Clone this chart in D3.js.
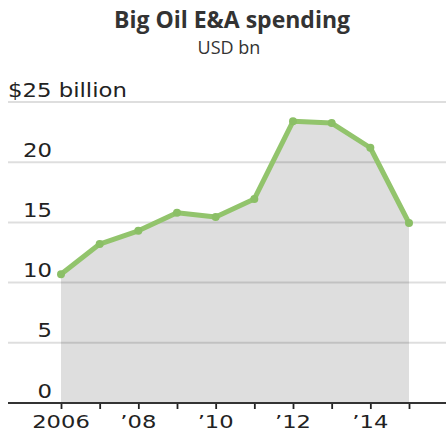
<!DOCTYPE html>
<html>
<head>
<meta charset="utf-8">
<script src="https://cdn.jsdelivr.net/npm/d3@7"></script>
<style>
  html, body { margin: 0; padding: 0; background: #fff; }
  svg { display: block; }
</style>
</head>
<body>
<svg id="chart" width="446" height="432"></svg>
<script>
// Big Oil exploration & production spending, USD bn
const years = [2006, 2007, 2008, 2009, 2010, 2011, 2012, 2013, 2014, 2015];
const spending = [10.7, 13.2, 14.3, 15.8, 15.45, 16.95, 23.4, 23.25, 21.2, 14.95];
const yTicks = [0, 5, 10, 15, 20, 25];
const xLabelYears = [2006, 2008, 2010, 2012, 2014];

const svg = d3.select("#chart");
const W = 446;
const titleFont = "'Open Sans', 'DejaVu Sans', sans-serif";
const axisFont = "'DejaVu Sans', sans-serif";
const widen = 1.2; // horizontal stretch for the wide axis lettering

const x = d3.scaleLinear().domain([2006, 2015]).range([61, 409]);
const y = d3.scaleLinear().domain([0, 25]).range([403, 102]);

// title
svg.append("text").attr("x", 232).attr("y", 28)
  .attr("text-anchor", "middle").attr("font-family", titleFont)
  .attr("font-weight", "bold").attr("font-size", 23).attr("fill", "#333")
  .text("Big Oil E&A spending");
svg.append("text").attr("x", 229).attr("y", 54)
  .attr("text-anchor", "middle").attr("font-family", titleFont)
  .attr("font-size", 18).attr("fill", "#333")
  .text("USD bn");

// shaded area under the line
const area = d3.area().x((d, i) => x(years[i])).y0(y(0)).y1(d => y(d));
svg.append("path").datum(spending).attr("d", area).attr("fill", "#dedede");

// horizontal gridlines: translucent so they read darker over the shading
const grid = svg.append("g");
grid.selectAll("line").data(yTicks.filter(t => t > 0)).join("line")
  .attr("x1", 8).attr("x2", W)
  .attr("y1", d => y(d)).attr("y2", d => y(d))
  .attr("stroke", "rgba(0,0,0,0.13)").attr("stroke-width", 2);

// y tick labels
const yl = svg.append("g").attr("font-family", axisFont).attr("font-size", 19).attr("fill", "#222");
yl.selectAll("text").data(yTicks).join("text")
  .attr("transform", d => `translate(${d === 25 ? 8 : 52},${y(d) - 5.5}) scale(${widen},1)`)
  .attr("text-anchor", d => d === 25 ? "start" : "end")
  .text(d => d === 25 ? "$25 billion" : d);

// x axis
const xAxis = d3.axisBottom(x).tickValues(years).tickSize(6).tickFormat("");
const gx = svg.append("g").attr("transform", `translate(0,${y(0)})`).call(xAxis);
gx.select(".domain").remove();
gx.selectAll(".tick line").attr("stroke", "#222").attr("stroke-width", 1.8);
svg.append("line").attr("x1", 8).attr("x2", W).attr("y1", y(0)).attr("y2", y(0))
  .attr("stroke", "#333").attr("stroke-width", 2);

svg.append("g").attr("font-family", axisFont).attr("font-size", 18.5).attr("fill", "#222")
  .selectAll("text").data(xLabelYears).join("text")
  .attr("transform", d => `translate(${x(d)},427.5) scale(${widen * 1.02},1)`)
  .attr("text-anchor", "middle")
  .text(d => d === 2006 ? "2006" : "\u2019" + String(d).slice(2));

// line and markers
const line = d3.line().x((d, i) => x(years[i])).y(d => y(d));
svg.append("path").datum(spending).attr("d", line)
  .attr("fill", "none").attr("stroke", "#92c46c").attr("stroke-width", 5)
  .attr("stroke-linejoin", "round");
svg.append("g").selectAll("circle").data(spending).join("circle")
  .attr("cx", (d, i) => x(years[i])).attr("cy", d => y(d)).attr("r", 4)
  .attr("fill", "#8bbf66");
</script>
</body>
</html>
